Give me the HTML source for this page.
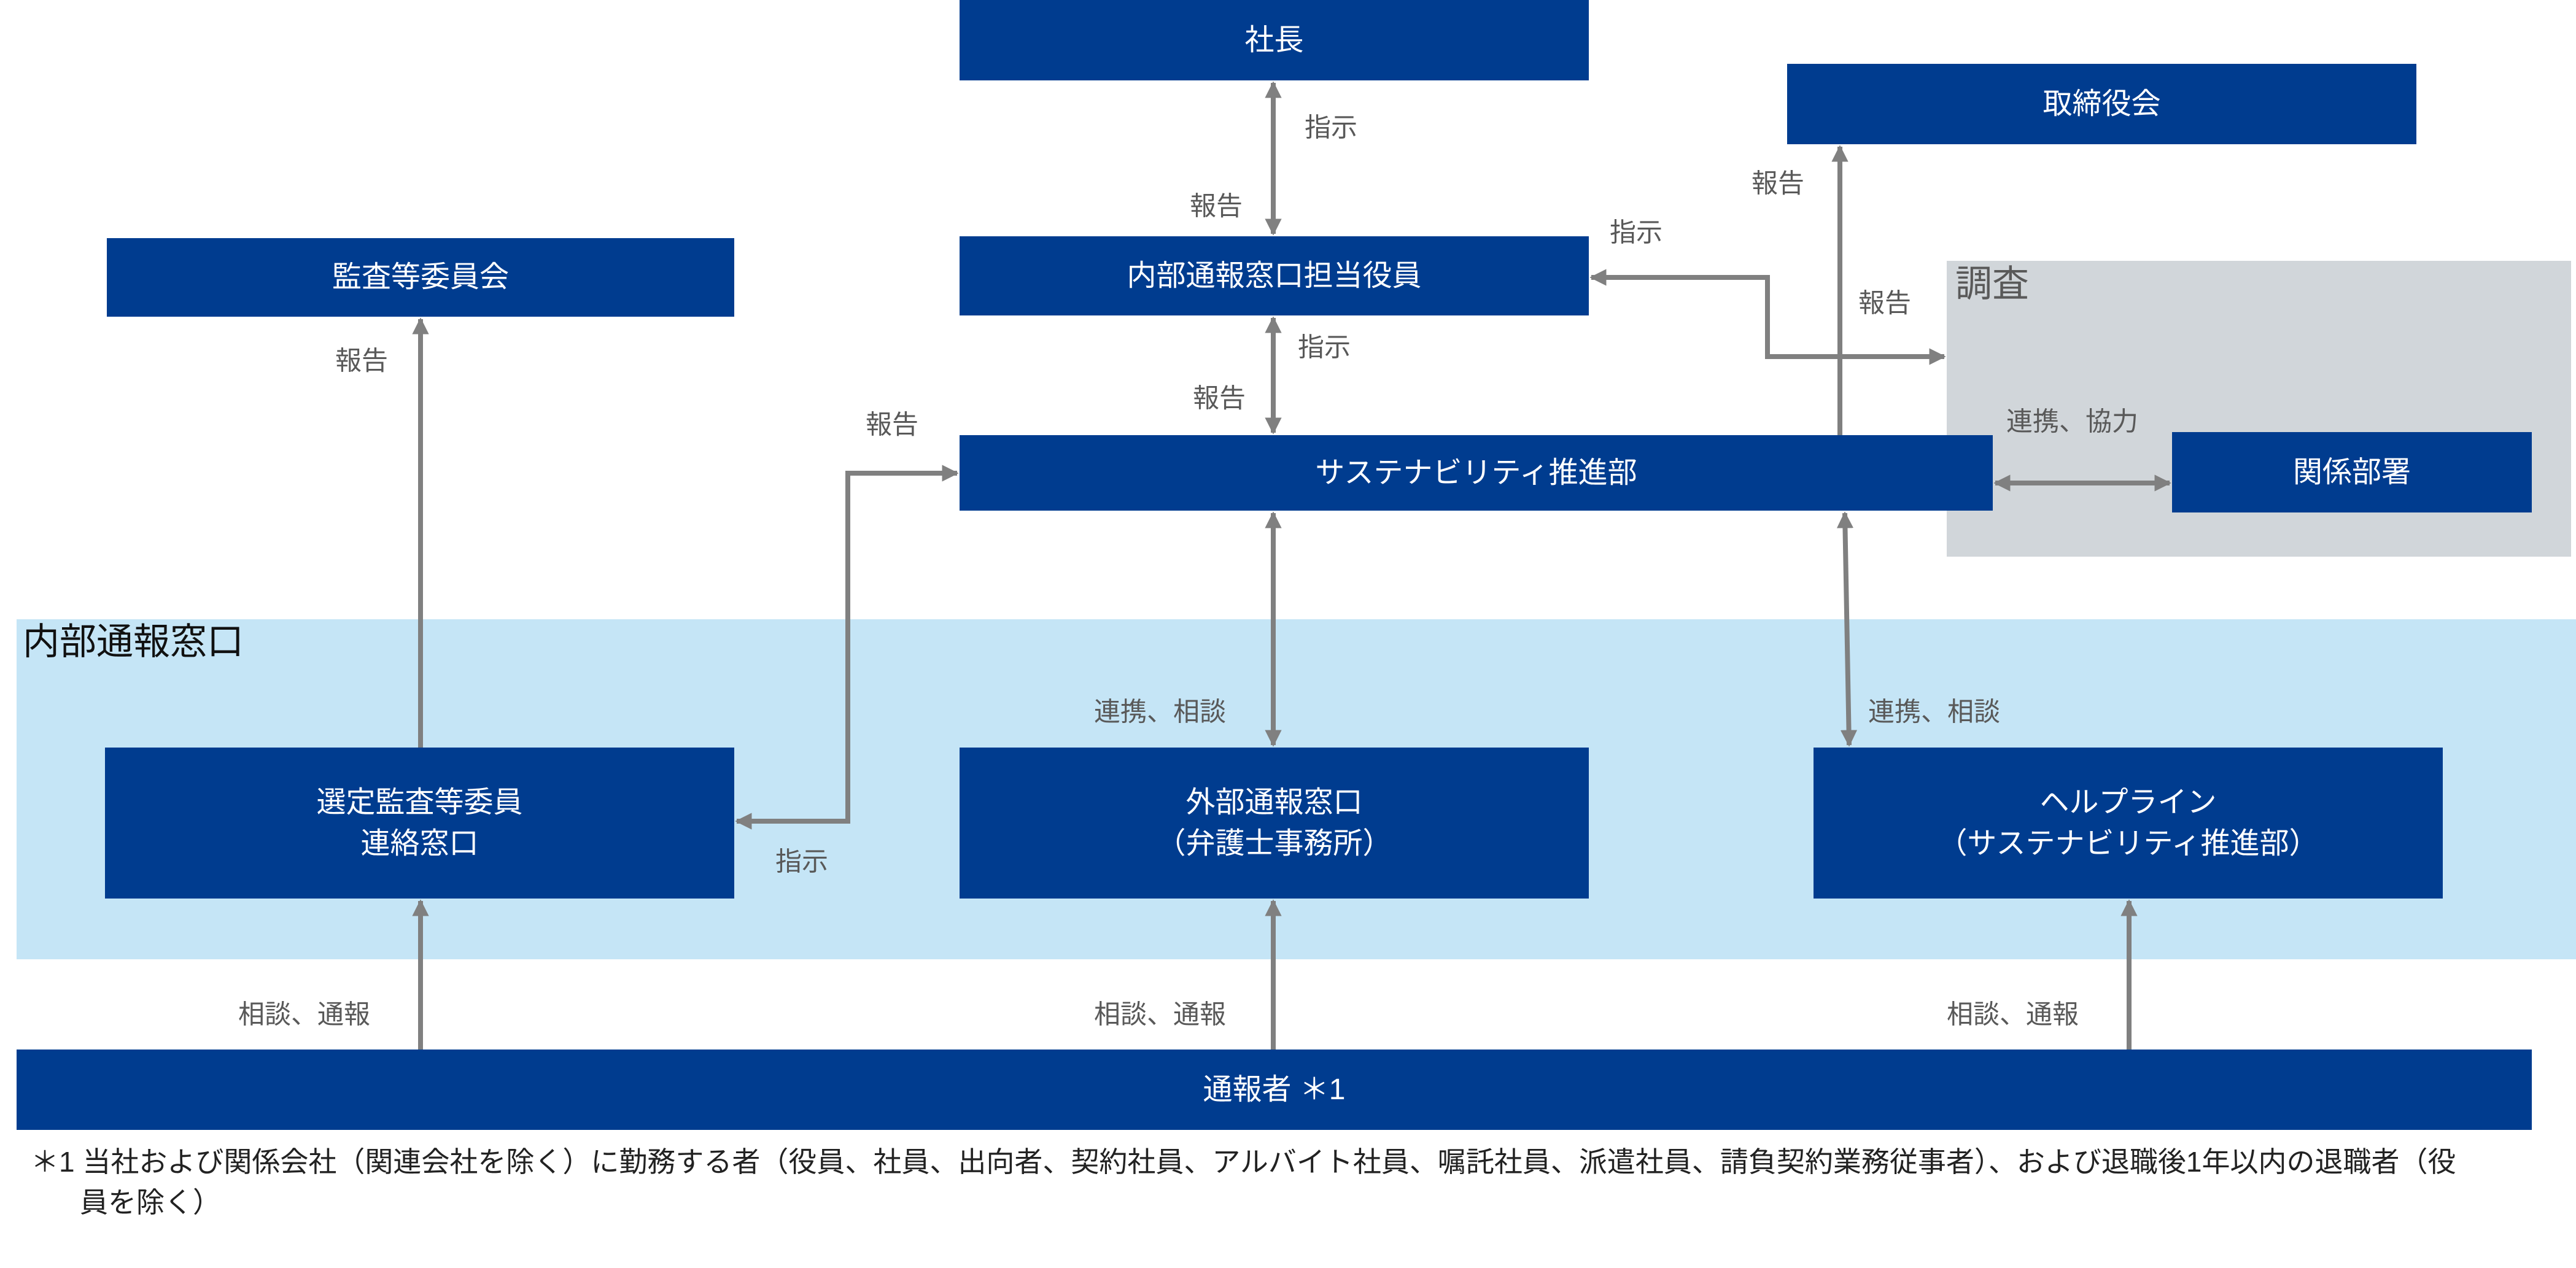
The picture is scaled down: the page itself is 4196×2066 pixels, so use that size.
<!DOCTYPE html>
<html><head><meta charset="utf-8"><style>
body{margin:0;width:4196px;height:2066px;background:#fff;position:relative;overflow:hidden;font-family:"Liberation Sans","Noto Sans CJK JP",sans-serif}
.b{position:absolute;background:#003c8f;color:#fff;display:flex;align-items:center;justify-content:center;text-align:center;font-size:48px;line-height:1.4}
.l{position:absolute;color:#595959;font-size:43px;line-height:1;transform:translateY(-50%);white-space:nowrap}
</style></head><body>
<div style="position:absolute;left:3171px;top:425px;width:1017px;height:482px;background:#d1d6da"></div>
<div style="position:absolute;left:27px;top:1009px;width:4169px;height:554px;background:#c5e5f6"></div>
<div class="b" style="left:1563px;top:0;width:1025px;height:131px">社長</div>
<div class="b" style="left:2911px;top:104px;width:1025px;height:131px">取締役会</div>
<div class="b" style="left:174px;top:388px;width:1022px;height:128px">監査等委員会</div>
<div class="b" style="left:1563px;top:385px;width:1025px;height:129px">内部通報窓口担当役員</div>
<div class="b" style="left:1563px;top:709px;width:1683px;height:123px">サステナビリティ推進部</div>
<div class="b" style="left:3538px;top:704px;width:586px;height:131px">関係部署</div>
<div class="b" style="left:171px;top:1218px;width:1025px;height:246px">選定監査等委員<br>連絡窓口</div>
<div class="b" style="left:1563px;top:1218px;width:1025px;height:246px">外部通報窓口<br>（弁護士事務所）</div>
<div class="b" style="left:2954px;top:1218px;width:1025px;height:246px">ヘルプライン<br>（サステナビリティ推進部）</div>
<div class="b" style="left:27px;top:1710px;width:4097px;height:131px">通報者 ＊1</div>
<svg width="4196" height="2066" style="position:absolute;left:0;top:0">
<defs><marker id="a" viewBox="0 0 10 10" refX="9" refY="5" markerWidth="3.4" markerHeight="3.4" orient="auto-start-reverse"><path d="M0,0L10,5L0,10z" fill="#808080"/></marker></defs>
<g stroke="#808080" stroke-width="8" fill="none" marker-end="url(#a)" marker-start="url(#a)">
<line x1="2074" y1="135" x2="2074" y2="381"/>
<line x1="2074" y1="518" x2="2074" y2="705"/>
<polyline points="1200,1338 1381,1338 1381,771 1559,771"/>
<polyline points="2592,452 2879,452 2879,581 3167,581"/>
<line x1="3250" y1="787" x2="3534" y2="787"/>
<line x1="2074" y1="836" x2="2074" y2="1214"/>
<line x1="3005" y1="836" x2="3012" y2="1214"/>
</g>
<g stroke="#808080" stroke-width="8" fill="none" marker-end="url(#a)">
<line x1="685" y1="1218" x2="685" y2="520"/>
<line x1="2997" y1="709" x2="2997" y2="239"/>
<line x1="685" y1="1710" x2="685" y2="1468"/>
<line x1="2074" y1="1710" x2="2074" y2="1468"/>
<line x1="3468" y1="1710" x2="3468" y2="1468"/>
</g>
</svg>
<div class="l" style="left:2125px;top:209px">指示</div>
<div class="l" style="left:1938px;top:337px">報告</div>
<div class="l" style="left:546px;top:589px">報告</div>
<div class="l" style="left:2114px;top:567px">指示</div>
<div class="l" style="left:1943px;top:650px">報告</div>
<div class="l" style="left:1410px;top:693px">報告</div>
<div class="l" style="left:2622px;top:380px">指示</div>
<div class="l" style="left:2853px;top:300px">報告</div>
<div class="l" style="left:3027px;top:495px">報告</div>
<div class="l" style="left:3185px;top:463px;font-size:60px">調査</div>
<div class="l" style="left:3268px;top:688px">連携、協力</div>
<div class="l" style="left:37px;top:1046px;font-size:60px;color:#111">内部通報窓口</div>
<div class="l" style="left:1782px;top:1161px">連携、相談</div>
<div class="l" style="left:3043px;top:1161px">連携、相談</div>
<div class="l" style="left:1263px;top:1405px">指示</div>
<div class="l" style="left:388px;top:1654px">相談、通報</div>
<div class="l" style="left:1782px;top:1654px">相談、通報</div>
<div class="l" style="left:3171px;top:1654px">相談、通報</div>
<div style="position:absolute;left:50px;top:1860px;width:4140px;font-size:46px;line-height:66px;color:#222;padding-left:80px;text-indent:-80px;white-space:nowrap">＊1 当社および関係会社（関連会社を除く）に勤務する者（役員、社員、出向者、契約社員、アルバイト社員、嘱託社員、派遣社員、請負契約業務従事者）、および退職後1年以内の退職者（役<br>員を除く）</div>
</body></html>
